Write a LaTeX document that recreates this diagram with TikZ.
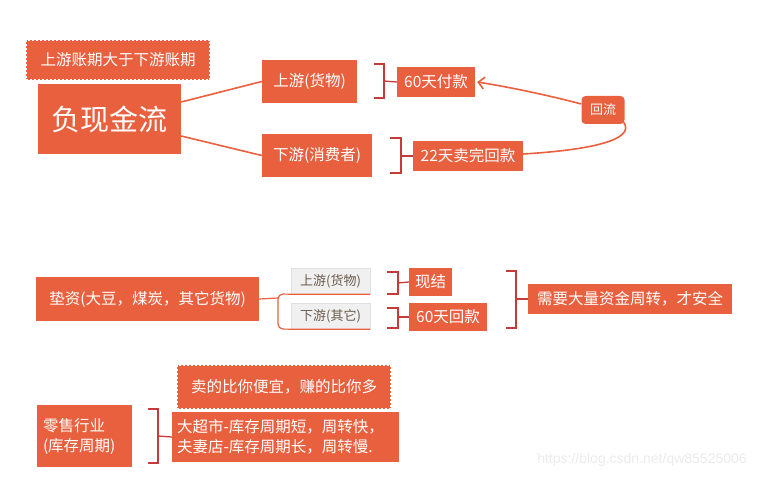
\documentclass[tikz,border=0pt]{standalone}
\usepackage{fontspec}
\newfontfamily\cjk{Noto Sans CJK SC}
\newfontfamily\wmfont{Liberation Sans}
\usetikzlibrary{arrows.meta}
\definecolor{oc}{HTML}{E9603F}
\definecolor{bc}{HTML}{C73A3A}
\definecolor{gfill}{HTML}{F0F0F0}
\definecolor{gtext}{HTML}{6A5B4C}
\tikzset{
  obox/.style={fill=oc, text=white, inner sep=0pt, font=\cjk\fontsize{15.5}{19}\selectfont},
  dbox/.style={obox, draw=white, line width=1.2pt, dash pattern=on 2pt off 2pt},
  gbox/.style={fill=gfill, draw=black!12, text=gtext, inner sep=0pt, font=\cjk\fontsize{13}{16}\selectfont},
  brk/.style={draw=bc, line width=1.3pt},
  conn/.style={draw=oc, line width=1.6pt},
}
\begin{document}
\begin{tikzpicture}[x=1pt,y=-1pt]
\useasboundingbox (0,0) rectangle (771,478);
% section 1
\node[dbox, minimum width=184pt, minimum height=40pt] (t1) at (118,60) {上游账期大于下游账期};
\node[obox, minimum width=143pt, minimum height=70pt, font=\cjk\fontsize{29}{33}\selectfont] (neg) at (109.5,119) {负现金流};
\node[obox, minimum width=95pt, minimum height=43pt] (up) at (309.5,81.5) {上游(货物)};
\node[obox, minimum width=110pt, minimum height=43pt] (down) at (317,155.5) {下游(消费者)};
\node[obox, minimum width=78pt, minimum height=30pt] (p60) at (436,82) {60天付款};
\node[obox, minimum width=110pt, minimum height=30pt] (s22) at (468,156) {22天卖完回款};
\node[obox, rounded corners=4pt, minimum width=43pt, minimum height=28pt, font=\cjk\fontsize{13}{16}\selectfont] (hl) at (603,110) {回流};
\draw[conn] ([yshift=17pt]neg.east) -- (up.west);
\draw[conn] ([yshift=-17pt]neg.east) -- (down.west);
\coordinate (b1t) at (374,64); \coordinate (b1m) at (384,81); \coordinate (b1b) at (374,98);
\draw[brk] (b1t) -| (b1m) |- (b1b);
\draw[brk] (b1m) -- (p60.west);
\coordinate (b2t) at (390,138); \coordinate (b2m) at (401,156); \coordinate (b2b) at (390,173);
\draw[brk] (b2t) -| (b2m) |- (b2b);
\draw[brk] (b2m) -- (s22.west);
\draw[conn] ([yshift=2pt]s22.east) .. controls (590,150) and (636,140) .. ([xshift=-1pt,yshift=2pt]hl.south east);
\draw[conn, -{Straight Barb[length=6pt,width=12pt,line width=1.6pt]}] ([yshift=6pt]hl.west) .. controls (555,97) and (515,88) .. ([xshift=2pt]p60.east);
% section 2
\node[obox, minimum width=223pt, minimum height=44pt] (dz) at (147.5,299) {垫资(大豆，煤炭，其它货物)};
\node[gbox, minimum width=79pt, minimum height=26pt] (gu) at (330.5,281) {上游(货物)};
\node[gbox, minimum width=79pt, minimum height=26pt] (gd) at (330.5,316) {下游(其它)};
\coordinate (j) at (278,298);
\draw[conn, line width=1.2pt] (dz.east) -- (j);
\draw[conn, line width=1.2pt, rounded corners=5pt] (gu.south east) -- (gu.south west) -- (278,294) -- (278,329) -- (gd.south west) -- (gd.south east);
\node[obox, minimum width=43pt, minimum height=28pt] (xj) at (430.5,282) {现结};
\node[obox, minimum width=78pt, minimum height=28pt] (h60) at (448,317) {60天回款};
\node[obox, minimum width=204pt, minimum height=30pt] (xy) at (630,299) {需要大量资金周转，才安全};
\coordinate (b3t) at (387,272); \coordinate (b3m) at (398,283); \coordinate (b3b) at (387,294);
\draw[brk] (b3t) -| (b3m) |- (b3b);
\draw[brk] (b3m) -- (xj.west);
\coordinate (b4t) at (387,308); \coordinate (b4m) at (398,317); \coordinate (b4b) at (387,328);
\draw[brk] (b4t) -| (b4m) |- (b4b);
\draw[brk] (b4m) -- (h60.west);
\coordinate (b5t) at (506,271); \coordinate (b5m) at (516,299); \coordinate (b5b) at (506,328);
\draw[brk] (b5t) -| (b5m) |- (b5b);
\draw[brk] (b5m) -- (xy.west);
% section 3
\node[obox, minimum width=95pt, minimum height=62pt, text width=83pt, align=left, font=\cjk\fontsize{15.5}{20}\selectfont] (ls) at (84.5,436) {零售行业\\(库存周期)};
\node[dbox, minimum width=214pt, minimum height=44pt] (mp) at (284,387) {卖的比你便宜，赚的比你多};
\node[obox, minimum width=227pt, minimum height=50pt, text width=217pt, align=left, font=\cjk\fontsize{15.5}{19.5}\selectfont] (dc) at (285.5,437) {大超市-库存周期短，周转快，\\夫妻店-库存周期长，周转慢.};
\coordinate (b6t) at (148,409); \coordinate (b6m) at (158,436); \coordinate (b6b) at (148,463);
\draw[brk] (b6t) -| (b6m) |- (b6b);
\draw[brk] (b6m) -- (dc.west);
\node[text=black!8, font=\wmfont\fontsize{14}{16}\selectfont, inner sep=0pt] (wm) at (642,460) {https://blog.csdn.net/qw85525006};
\end{tikzpicture}
\end{document}
